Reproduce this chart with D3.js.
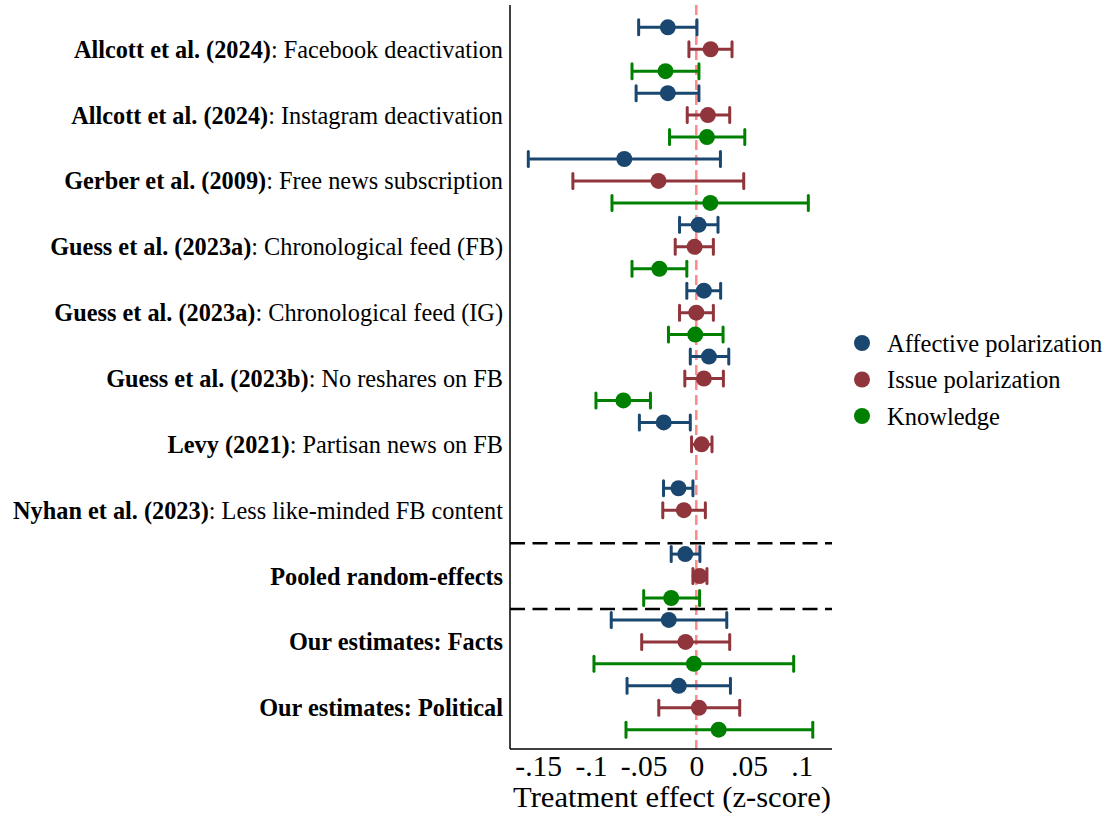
<!DOCTYPE html>
<html><head><meta charset="utf-8">
<script src="https://cdn.jsdelivr.net/npm/d3@7"></script>
<style>body{margin:0;background:#fff;} svg{display:block;}</style>
</head><body>
<script>
// ---- data ----
const studyBold = ["Allcott et al. (2024)","Allcott et al. (2024)","Gerber et al. (2009)","Guess et al. (2023a)","Guess et al. (2023a)","Guess et al. (2023b)","Levy (2021)","Nyhan et al. (2023)","Pooled random-effects","Our estimates: Facts","Our estimates: Political"];
const studyRest = [": Facebook deactivation",": Instagram deactivation",": Free news subscription",": Chronological feed (FB)",": Chronological feed (IG)",": No reshares on FB",": Partisan news on FB",": Less like-minded FB content","","",""];
const seriesNames = ["Affective polarization","Issue polarization","Knowledge"];
// estimates per study: [affective, issue, knowledge]; null = not reported
const estimate = [
  [-0.027, 0.0136, -0.0292],
  [-0.027, 0.011, 0.0101],
  [-0.0683, -0.0359, 0.0133],
  [0.0022, -0.0016, -0.035],
  [0.0072, 0.0, -0.001],
  [0.012, 0.0072, -0.0692],
  [-0.0309, 0.005, null],
  [-0.0169, -0.0118, null],
  [-0.0105, 0.0031, -0.0238],
  [-0.0261, -0.0102, -0.0023],
  [-0.0166, 0.0025, 0.0212]
];
const lower = [
  [-0.0547, -0.007, -0.061],
  [-0.0571, -0.0086, -0.0254],
  [-0.1594, -0.1171, -0.080],
  [-0.0159, -0.020, -0.061],
  [-0.009, -0.0159, -0.0264],
  [-0.0057, -0.0109, -0.0952],
  [-0.054, -0.0045, null],
  [-0.0311, -0.0318, null],
  [-0.0238, -0.0032, -0.0499],
  [-0.0807, -0.0518, -0.0971],
  [-0.0657, -0.0356, -0.0667]
];
const upper = [
  [0.0006, 0.0339, 0.0025],
  [0.0025, 0.0317, 0.046],
  [0.0229, 0.045, 0.1063],
  [0.0206, 0.0162, -0.009],
  [0.0231, 0.0162, 0.0254],
  [0.0308, 0.0257, -0.0435],
  [-0.0057, 0.0149, null],
  [-0.0032, 0.0086, null],
  [0.0034, 0.0101, 0.0031],
  [0.0289, 0.0317, 0.0924],
  [0.0324, 0.0412, 0.1105]
];
const xTicks = [-0.15,-0.1,-0.05,0,0.05,0.1];
const xTickLabels = ["-.15","-.1","-.05","0",".05",".1"];
const colors = ["#1a476f","#90353b","#008000"];
const separatorsAfterStudy = [7, 8]; // dashed lines after these study indices

// ---- layout ----
const W = 1108, H = 819;
const svg = d3.select("body").append("svg").attr("width", W).attr("height", H);
const font = "'Liberation Serif','Times New Roman',serif";

const x = d3.scaleLinear().domain([-0.15, 0.1]).range([538.2, 801.7]);
const nRows = studyBold.length * 3;
const y = d3.scaleLinear().domain([0, nRows - 1]).range([27.3, 729.7]);
const plotLeft = 510, plotRight = 832, plotTop = 5, plotBottom = 749;

// flatten rows
const rows = [];
estimate.forEach((arr, i) => arr.forEach((v, j) => {
  if (v !== null) rows.push({study: i, series: j, row: i * 3 + j, est: v, lo: lower[i][j], hi: upper[i][j]});
}));

// zero reference line
svg.append("line")
  .attr("x1", x(0)).attr("x2", x(0)).attr("y1", plotTop).attr("y2", plotBottom)
  .attr("stroke", "#ff8a8a").attr("stroke-width", 2.5).attr("stroke-dasharray", "10,5");

// separators
separatorsAfterStudy.forEach(s => {
  const yy = (y(s * 3 + 2) + y(s * 3 + 3)) / 2;
  svg.append("line").attr("x1", plotLeft).attr("x2", plotRight).attr("y1", yy).attr("y2", yy)
    .attr("stroke", "#000").attr("stroke-width", 2.5).attr("stroke-dasharray", "15,7.5");
});

// error bars
const g = svg.append("g");
const capH = 7.5;
rows.forEach(d => {
  const c = colors[d.series], yy = y(d.row);
  g.append("line").attr("x1", x(d.lo)).attr("x2", x(d.hi)).attr("y1", yy).attr("y2", yy)
    .attr("stroke", c).attr("stroke-width", 3);
  [d.lo, d.hi].forEach(v => g.append("line").attr("x1", x(v)).attr("x2", x(v))
    .attr("y1", yy - capH).attr("y2", yy + capH).attr("stroke", c).attr("stroke-width", 3).attr("stroke-linecap", "round"));
  g.append("circle").attr("cx", x(d.est)).attr("cy", yy).attr("r", 8).attr("fill", c);
});

// axes lines
svg.append("line").attr("x1", plotLeft).attr("x2", plotLeft).attr("y1", plotTop).attr("y2", plotBottom)
  .attr("stroke", "#000").attr("stroke-width", 1.5);
svg.append("line").attr("x1", plotLeft).attr("x2", plotRight).attr("y1", plotBottom).attr("y2", plotBottom)
  .attr("stroke", "#000").attr("stroke-width", 1.5);

// x-axis via d3 axis
const xAxis = d3.axisBottom(x).tickValues(xTicks).tickFormat((d, i) => xTickLabels[i]).tickSize(0).tickPadding(6);
const ax = svg.append("g").attr("transform", `translate(0,${plotBottom})`).call(xAxis);
ax.select(".domain").remove();
ax.selectAll("text").attr("font-family", font).attr("font-size", 29.5).attr("fill", "#000");

svg.append("text").attr("x", (plotLeft + plotRight) / 2 + 1).attr("y", 807).attr("text-anchor", "middle")
  .attr("font-family", font).attr("font-size", 30)
  .attr("textLength", 318).attr("lengthAdjust", "spacingAndGlyphs")
  .text("Treatment effect (z-score)");

// y labels
studyBold.forEach((b, i) => {
  const t = svg.append("text").attr("x", 503).attr("y", y(i * 3 + 1)).attr("dy", "0.35em")
    .attr("text-anchor", "end").attr("font-family", font).attr("font-size", 24.3).attr("fill", "#000");
  t.append("tspan").attr("font-weight", "bold").text(b);
  if (studyRest[i]) t.append("tspan").text(studyRest[i]);
});

// legend
seriesNames.forEach((n, i) => {
  const ly = 343 + i * 36.5;
  svg.append("circle").attr("cx", 862).attr("cy", ly).attr("r", 8).attr("fill", colors[i]);
  svg.append("text").attr("x", 887).attr("y", ly).attr("dy", "0.35em").attr("font-family", font)
    .attr("font-size", 24.5).text(n);
});
</script>
</body></html>
